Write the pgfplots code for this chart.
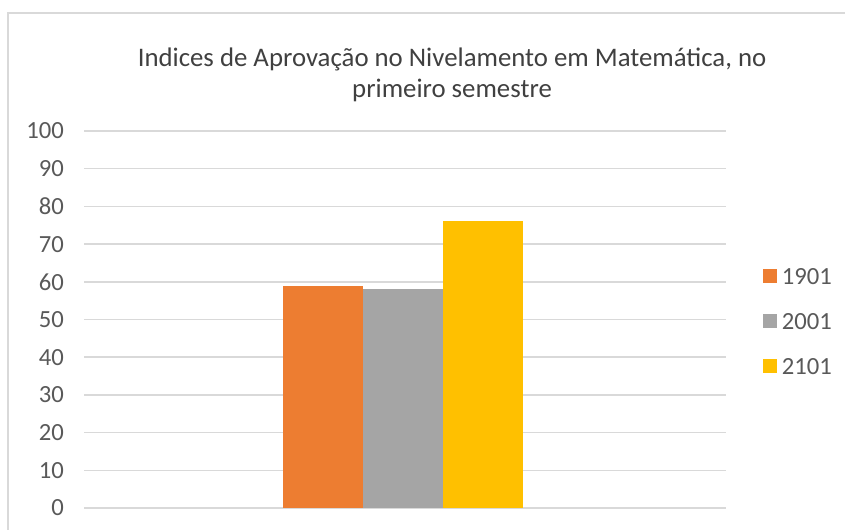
\documentclass[border=0pt]{standalone}
\usepackage{fontspec}
\setmainfont{Carlito}
\usepackage{pgfplots}
\pgfplotsset{compat=1.18}
\definecolor{cOrange}{HTML}{ED7D31}
\definecolor{cGray}{HTML}{A5A5A5}
\definecolor{cYellow}{HTML}{FFC000}
\definecolor{gridgray}{HTML}{D9D9D9}
\definecolor{labelgray}{HTML}{595959}
\definecolor{titlegray}{HTML}{404040}
\pgfplotsset{sqlegend/.style={legend image code/.code={\fill[##1] (0pt,-4.6pt) rectangle (10.5pt,5.9pt);}}}
\begin{document}
\begin{tikzpicture}
\useasboundingbox (0,0) rectangle (633.75pt,396.75pt);
\begin{scope}
\clip (0,0) rectangle (633.75pt,396.75pt);
\draw[color=gridgray, line width=1.1pt] (6pt,-20pt) -- (6pt,387pt) -- (660pt,387pt);
\end{scope}
\node[anchor=base, text=titlegray, font=\fontsize{20.1pt}{24pt}\selectfont] at (339pt,346.5pt) {Indices de Aprovação no Nivelamento em Matemática, no};
\node[anchor=base, text=titlegray, font=\fontsize{20.1pt}{24pt}\selectfont] at (339pt,323.25pt) {primeiro semestre};
\begin{axis}[
  at={(63pt,15.75pt)}, anchor=south west,
  scale only axis, width=481.5pt, height=282.75pt,
  ybar=0pt, bar width=60pt,
  xmin=-0.497, xmax=0.503, ymin=0, ymax=100,
  ytick={0,10,...,100}, xtick=\empty,
  axis line style={draw=none},
  ymajorgrids, grid style={gridgray, line width=1.1pt},
  major tick length=0pt,
  /pgf/number format/assume math mode=true,
  tick label style={font=\fontsize{18.5pt}{22pt}\selectfont, text=labelgray},
  yticklabel style={anchor=east, xshift=-11.5pt},
  legend style={draw=none, fill=none, at={(1,0.5)}, anchor=west, xshift=27.75pt, yshift=-1.5pt,
    font=\fontsize{18.5pt}{22pt}\selectfont, text=labelgray, inner sep=0pt,
    nodes={inner sep=0pt, text height=11.5pt, text depth=0pt},
    row sep=22.25pt,
    /tikz/every odd column/.append style={column sep=3.5pt}},
  legend cell align=left,
]
\addplot[fill=cOrange, draw=none, sqlegend] coordinates {(0,59)};
\addplot[fill=cGray, draw=none, sqlegend] coordinates {(0,58)};
\addplot[fill=cYellow, draw=none, sqlegend] coordinates {(0,76)};
\legend{1901,2001,2101}
\end{axis}
\end{tikzpicture}
\end{document}
